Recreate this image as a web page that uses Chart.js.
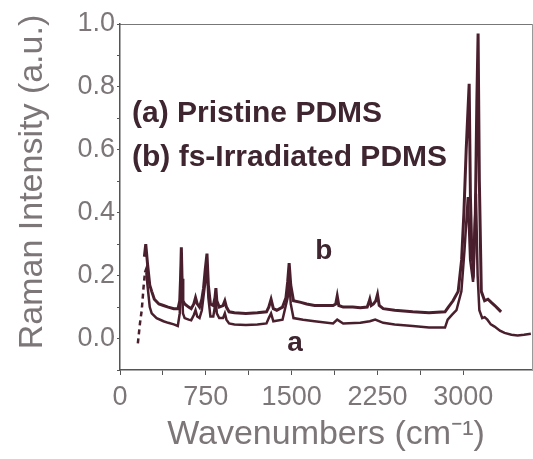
<!DOCTYPE html>
<html>
<head>
<meta charset="utf-8">
<script src="https://cdn.jsdelivr.net/npm/chart.js@4.4.1/dist/chart.umd.min.js"></script>
<style>
  html, body { margin: 0; padding: 0; background: #fff; overflow: hidden; }
  #wrap { width: 533px; height: 459px; position: absolute; top: 0; left: 0; }
  .tickx { position: absolute; font: 27px "Liberation Sans", Arial, sans-serif; color: #7d7679; transform: translateX(-50%); white-space: nowrap; }
</style>
</head>
<body>
<div id="wrap"><canvas id="grafico"></canvas></div>
<script>
// Espectro (b) fs-Irradiated PDMS
const wnB = [213, 225, 240, 260, 277, 300, 340, 380, 421, 470, 507, 522, 530, 536, 542, 550, 565, 600, 622, 645,
  660, 675, 695, 715, 730, 745, 760, 772, 790, 815, 830, 838, 846, 867, 900, 916, 930, 953, 1000, 1100,
  1200, 1280, 1300, 1320, 1340, 1370, 1420, 1450, 1465, 1478, 1492, 1516, 1580, 1631, 1700, 1800, 1862, 1885, 1898, 1912,
  1950, 2034, 2100, 2160, 2175, 2183, 2195, 2215, 2235, 2250, 2265, 2300, 2400, 2558, 2700, 2840, 2869, 2910, 2955, 2985,
  3005, 3025, 3051, 3062, 3075, 3090, 3105, 3118, 3129, 3140, 3157, 3186, 3215, 3244, 3275, 3302, 3330];
const intB = [0.26, 0.30, 0.24, 0.17, 0.15, 0.125, 0.11, 0.105, 0.10, 0.095, 0.095, 0.12, 0.20, 0.29, 0.19, 0.12, 0.11, 0.10, 0.095, 0.11,
  0.13, 0.11, 0.10, 0.125, 0.16, 0.22, 0.27, 0.17, 0.11, 0.105, 0.13, 0.16, 0.12, 0.10, 0.105, 0.12, 0.10, 0.085, 0.082, 0.08,
  0.082, 0.085, 0.10, 0.125, 0.095, 0.09, 0.10, 0.13, 0.18, 0.24, 0.17, 0.12, 0.115, 0.11, 0.105, 0.105, 0.105, 0.11, 0.135, 0.105,
  0.10, 0.10, 0.098, 0.10, 0.115, 0.125, 0.105, 0.11, 0.12, 0.14, 0.105, 0.095, 0.09, 0.085, 0.082, 0.085, 0.10, 0.12, 0.15, 0.25,
  0.40, 0.60, 0.81, 0.45, 0.26, 0.23, 0.40, 0.75, 0.97, 0.50, 0.15, 0.12, 0.125, 0.115, 0.105, 0.095, 0.085];

// Espectro (a) Pristine PDMS
const wnA = [156, 175, 190, 205, 218, 228, 240, 260, 277, 320, 380, 421, 470, 505, 522, 536, 550, 565, 600, 622,
  645, 660, 675, 695, 715, 745, 760, 772, 790, 815, 838, 846, 867, 900, 916, 930, 953, 1000, 1100, 1200,
  1280, 1300, 1320, 1340, 1420, 1465, 1478, 1492, 1516, 1600, 1700, 1862, 1898, 1950, 2100, 2183, 2230, 2300, 2400, 2558,
  2700, 2840, 2863, 2900, 2940, 2983, 3010, 3040, 3060, 3085, 3110, 3125, 3140, 3165, 3186, 3210, 3240, 3273, 3320, 3360,
  3420, 3475, 3530, 3590];
const intA = [-0.015, 0.05, 0.09, 0.16, 0.21, 0.22, 0.17, 0.10, 0.08, 0.065, 0.055, 0.05, 0.045, 0.04, 0.08, 0.24, 0.08, 0.065, 0.06, 0.058,
  0.075, 0.09, 0.07, 0.065, 0.09, 0.18, 0.23, 0.13, 0.07, 0.07, 0.12, 0.08, 0.065, 0.065, 0.08, 0.06, 0.048, 0.045, 0.043, 0.045,
  0.048, 0.065, 0.08, 0.055, 0.06, 0.13, 0.19, 0.11, 0.065, 0.06, 0.055, 0.048, 0.06, 0.048, 0.05, 0.055, 0.06, 0.05, 0.045, 0.04,
  0.035, 0.035, 0.06, 0.075, 0.09, 0.15, 0.28, 0.45, 0.25, 0.18, 0.46, 0.20, 0.09, 0.065, 0.068, 0.06, 0.045, 0.038, 0.025, 0.018,
  0.012, 0.01, 0.012, 0.015];

// Textos del grafico
const leyenda = ['(a) Pristine PDMS', '(b) fs-Irradiated PDMS'];
const etiquetas = ['a', 'b'];
const tituloY = 'Raman Intensity (a.u.)';
// Etiquetas del eje X (cada 750 cm-1)
const ticksX = [0, 750, 1500, 2250, 3000];

const colorLinea = '#4a1f2d';
const colorTexto = '#3e2530';
const colorEje = '#7d7679';
const fuente = '"Liberation Sans", Arial, sans-serif';

function puntos(xs, ys) {
    return xs.map((x, i) => ({ x: x, y: ys[i] }));
}

// Plugin para los textos: titulo Y y leyendas
const textosPlugin = {
    id: 'textos',
    afterDraw(chart) {
        const ctx = chart.ctx;
        const sx = chart.scales.x;
        const sy = chart.scales.y;
        ctx.save();

        // titulo del eje Y
        ctx.save();
        ctx.fillStyle = colorEje;
        ctx.textAlign = 'center';
        ctx.translate(33, 182);
        ctx.rotate(-Math.PI / 2);
        ctx.textBaseline = 'middle';
        ctx.font = '34px ' + fuente;
        ctx.fillText(tituloY, 0, 0);
        ctx.restore();

        // leyendas
        ctx.fillStyle = colorTexto;
        ctx.textBaseline = 'middle';
        ctx.textAlign = 'left';
        ctx.font = 'bold 30px ' + fuente;
        ctx.fillText(leyenda[0], sx.getPixelForValue(105), sy.getPixelForValue(0.714));
        ctx.fillText(leyenda[1], sx.getPixelForValue(105), sy.getPixelForValue(0.575));
        ctx.textAlign = 'center';
        ctx.font = 'bold 28px ' + fuente;
        ctx.fillText(etiquetas[1], sx.getPixelForValue(1780), sy.getPixelForValue(0.276));
        ctx.fillText(etiquetas[0], sx.getPixelForValue(1530), sy.getPixelForValue(-0.016));
        ctx.restore();
    }
};

document.addEventListener('DOMContentLoaded', function() {
    const ctx = document.getElementById('grafico').getContext('2d');
    const chart = new Chart(ctx, {
        type: 'line',
        data: {
            datasets: [{
                label: 'Pristine PDMS',
                data: puntos(wnA, intA),
                borderColor: colorLinea,
                borderWidth: 2.5,
                pointRadius: 0,
                tension: 0,
                segment: {
                    borderDash: c => (c.p0.parsed.x < 215 ? [5, 4] : undefined)
                }
            }, {
                label: 'fs-Irradiated PDMS',
                data: puntos(wnB, intB),
                borderColor: colorLinea,
                borderWidth: 3,
                pointRadius: 0,
                tension: 0
            }]
        },
        options: {
            responsive: true,
            maintainAspectRatio: false,
            animation: false,
            layout: { padding: { top: 24, right: 1, left: 0, bottom: 0 } },
            plugins: {
                legend: { display: false },
                tooltip: { enabled: false }
            },
            scales: {
                x: {
                    type: 'linear',
                    min: 0,
                    max: 3600,
                    afterBuildTicks: s => { s.ticks = s.ticks.filter(t => t.value % 375 === 0); },
                    afterFit: s => { s.height = 89; },
                    border: { color: '#555', width: 1.5 },
                    grid: { drawOnChartArea: false, tickLength: 5, color: '#555' },
                    ticks: {
                        stepSize: 375,
                        maxRotation: 0,
                        autoSkip: false,
                        color: 'rgba(0,0,0,0)',
                        callback: () => ''
                    },
                    title: {
                        display: true,
                        text: 'Wavenumbers (cm⁻¹)',
                        color: colorEje,
                        font: { family: fuente, size: 34 },
                        padding: { top: 0, bottom: 4 }
                    }
                },
                xTop: {
                    type: 'linear',
                    position: 'top',
                    min: 0,
                    max: 3600,
                    afterFit: s => { s.height = 0; },
                    border: { color: '#777', width: 1 },
                    grid: { drawOnChartArea: false, drawTicks: false },
                    ticks: { display: false }
                },
                y: {
                    min: -0.1,
                    max: 1.0,
                    afterBuildTicks: s => { s.ticks = s.ticks.filter(t => Math.abs(t.value * 10 - Math.round(t.value * 10)) < 1e-6); },
                    afterFit: s => { s.width = 120; },
                    border: { color: '#555', width: 1.5 },
                    grid: { drawOnChartArea: false, tickLength: 3, color: '#555' },
                    ticks: {
                        stepSize: 0.1,
                        autoSkip: false,
                        padding: 2,
                        color: colorEje,
                        font: { family: fuente, size: 27 },
                        callback: v => {
                            const k = Math.round(v * 10);
                            return (k >= 0 && k % 2 === 0) ? (k / 10).toFixed(1) : '';
                        }
                    },
                    title: { display: false }
                },
                yRight: {
                    position: 'right',
                    min: -0.1,
                    max: 1.0,
                    afterFit: s => { s.width = 0; },
                    border: { color: '#999', width: 1 },
                    grid: { drawOnChartArea: false, drawTicks: false },
                    ticks: { display: false }
                }
            }
        },
        plugins: [textosPlugin]
    });

    // Etiquetas del eje X como texto sobre el canvas, ubicadas con la escala
    const sx = chart.scales.x;
    const wrap = document.getElementById('wrap');
    ticksX.forEach(v => {
        const el = document.createElement('div');
        el.className = 'tickx';
        el.textContent = String(v);
        el.style.left = sx.getPixelForValue(v) + 'px';
        el.style.top = (sx.top + 11) + 'px';
        wrap.appendChild(el);
    });
});
</script>
</body>
</html>
